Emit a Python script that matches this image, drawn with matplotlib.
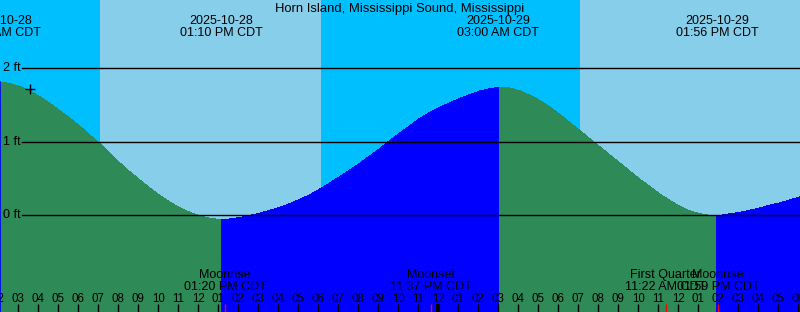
import numpy as np
import matplotlib.pyplot as plt
import matplotlib.transforms as mtransforms

plt.rcParams['font.family'] = ['Liberation Sans', 'DejaVu Sans']

# Times are hours since 2025-10-28 00:00 CDT
start_hour = 2.085
span_hours = 40

title = "Horn Island, Mississippi Sound, Mississippi"

# Predicted water level (ft) every 30 minutes from the left edge
sample_step = 0.5
level_ft = [
    1.81, 1.79, 1.75, 1.69, 1.61, 1.52, 1.42, 1.32, 1.21, 1.09,
    0.97, 0.84, 0.71, 0.59, 0.48, 0.37, 0.27, 0.18, 0.10, 0.04,
    -0.01, -0.04, -0.06, -0.05, -0.03, 0.00, 0.03, 0.07, 0.11, 0.16,
    0.22, 0.28, 0.36, 0.44, 0.53, 0.62, 0.71, 0.81, 0.91, 1.02,
    1.12, 1.22, 1.32, 1.40, 1.47, 1.53, 1.59, 1.64, 1.69, 1.72,
    1.74, 1.73, 1.69, 1.63, 1.56, 1.47, 1.37, 1.26, 1.15, 1.04,
    0.93, 0.82, 0.71, 0.60, 0.49, 0.39, 0.29, 0.20, 0.12, 0.06,
    0.02, 0.00, 0.00, 0.02, 0.04, 0.07, 0.10, 0.14, 0.17, 0.21,
    0.25,
]

# High / low tide events
tide_hours = [2.085, 13.167, 27.0, 37.933]
tide_ft = [1.81, -0.06, 1.74, 0.00]
tide_kind = ["H", "L", "H", "L"]
tide_dates = ["2025-10-28", "2025-10-28", "2025-10-29", "2025-10-29"]
tide_times = ["02:05 AM CDT", "01:10 PM CDT", "03:00 AM CDT", "01:56 PM CDT"]

# Daylight periods (sunrise, sunset)
day_periods = [(7.083, 18.133), (31.083, 42.2)]

# Moon events
moon_hours = [13.333, 23.617, 35.367, 37.983]
moon_names = ["Moonrise", "Moonset", "First Quarter", "Moonrise"]
moon_times = ["01:20 PM CDT", "11:37 PM CDT", "11:22 AM CDT", "01:59 PM CDT"]

# current time marker
now_hour = 3.583
now_ft = 1.71

grid_ft = [0, 1, 2]

NIGHT = "#00bfff"
DAY = "#87ceeb"
FALL = "#2e8b57"
RISE = "#0000ff"

W, H = 800, 312
fig = plt.figure(figsize=(W / 100, H / 100), dpi=100)
ax = fig.add_axes([0, 0, 1, 1])
ax.set_xlim(start_hour, start_hour + span_hours)
ybot, ytop = -1.314, 2.925
ax.set_ylim(ybot, ytop)
ax.axis("off")
trans = mtransforms.blended_transform_factory(ax.transData, ax.transAxes)


def fy(ypix):
    return 1 - ypix / H


# night background with day bands on top
ax.axvspan(start_hour, start_hour + span_hours, color=NIGHT, lw=0)
for sr, ss in day_periods:
    ax.axvspan(sr, ss, color=DAY, lw=0)

# tide curve, merged with event points
t = list(start_hour + sample_step * np.arange(len(level_ft)))
h = list(level_ft)
for th, tf in zip(tide_hours, tide_ft):
    if not np.any(np.isclose(t, th)):
        t.append(th)
        h.append(tf)
order = np.argsort(t)
t = np.array(t)[order]
h = np.array(h)[order]

falling = np.zeros(len(t), dtype=bool)
for i, kind in enumerate(tide_kind):
    if kind == "H":
        end = tide_hours[i + 1] if i + 1 < len(tide_hours) else t[-1]
        falling |= (t >= tide_hours[i] - 1e-6) & (t <= end + 1e-6)
rising = ~falling
for th in tide_hours:
    rising[np.isclose(t, th)] = True
rising[0] = False

ax.fill_between(t, ybot, h, where=falling, color=FALL, lw=0, antialiased=False)
ax.fill_between(t, ybot, h, where=rising, color=RISE, lw=0, antialiased=False)
ax.axvline(start_hour, ymin=0, ymax=(tide_ft[0] - ybot) / (ytop - ybot), color=RISE, lw=1.2)

# level lines
ytrans = mtransforms.blended_transform_factory(ax.transAxes, ax.transData)
for lv in grid_ft:
    ax.axhline(lv, xmin=22 / W, xmax=1, color="black", lw=1)
    ax.text(3 / W, lv, f"{lv} ft", transform=ytrans, ha="left", va="center", fontsize=9)

ax.plot([now_hour], [now_ft], marker="+", color="black", ms=7, mew=1)

# title and tide labels
ax.text(0.5, fy(11.7), title, transform=ax.transAxes, ha="center", va="baseline", fontsize=9.4)
for th, d, tm in zip(tide_hours, tide_dates, tide_times):
    ax.text(th, fy(24), d, transform=trans, ha="center", va="baseline", fontsize=9)
    ax.text(th, fy(36.3), tm, transform=trans, ha="center", va="baseline", fontsize=9)

# moon labels and marks
for mh, nm, tm in zip(moon_hours, moon_names, moon_times):
    ax.text(mh, fy(277.7), nm, transform=trans, ha="center", va="baseline", fontsize=9)
    ax.text(mh, fy(290), tm, transform=trans, ha="center", va="baseline", fontsize=9)

# hour ticks
first = int(np.floor(start_hour))
for hr in range(first, int(start_hour + span_hours) + 2):
    lab = f"{(hr % 12) or 12:02d}"
    ax.text(hr, fy(301.7), lab, transform=trans, ha="center", va="baseline", fontsize=8.3)
    ax.vlines(hr, 0, fy(304), transform=trans, color="black", lw=3 if hr % 24 == 0 else 1)
ax.vlines(moon_hours, 0, fy(304), transform=trans, color="red", lw=1)

fig.savefig("out.png", dpi=100)
